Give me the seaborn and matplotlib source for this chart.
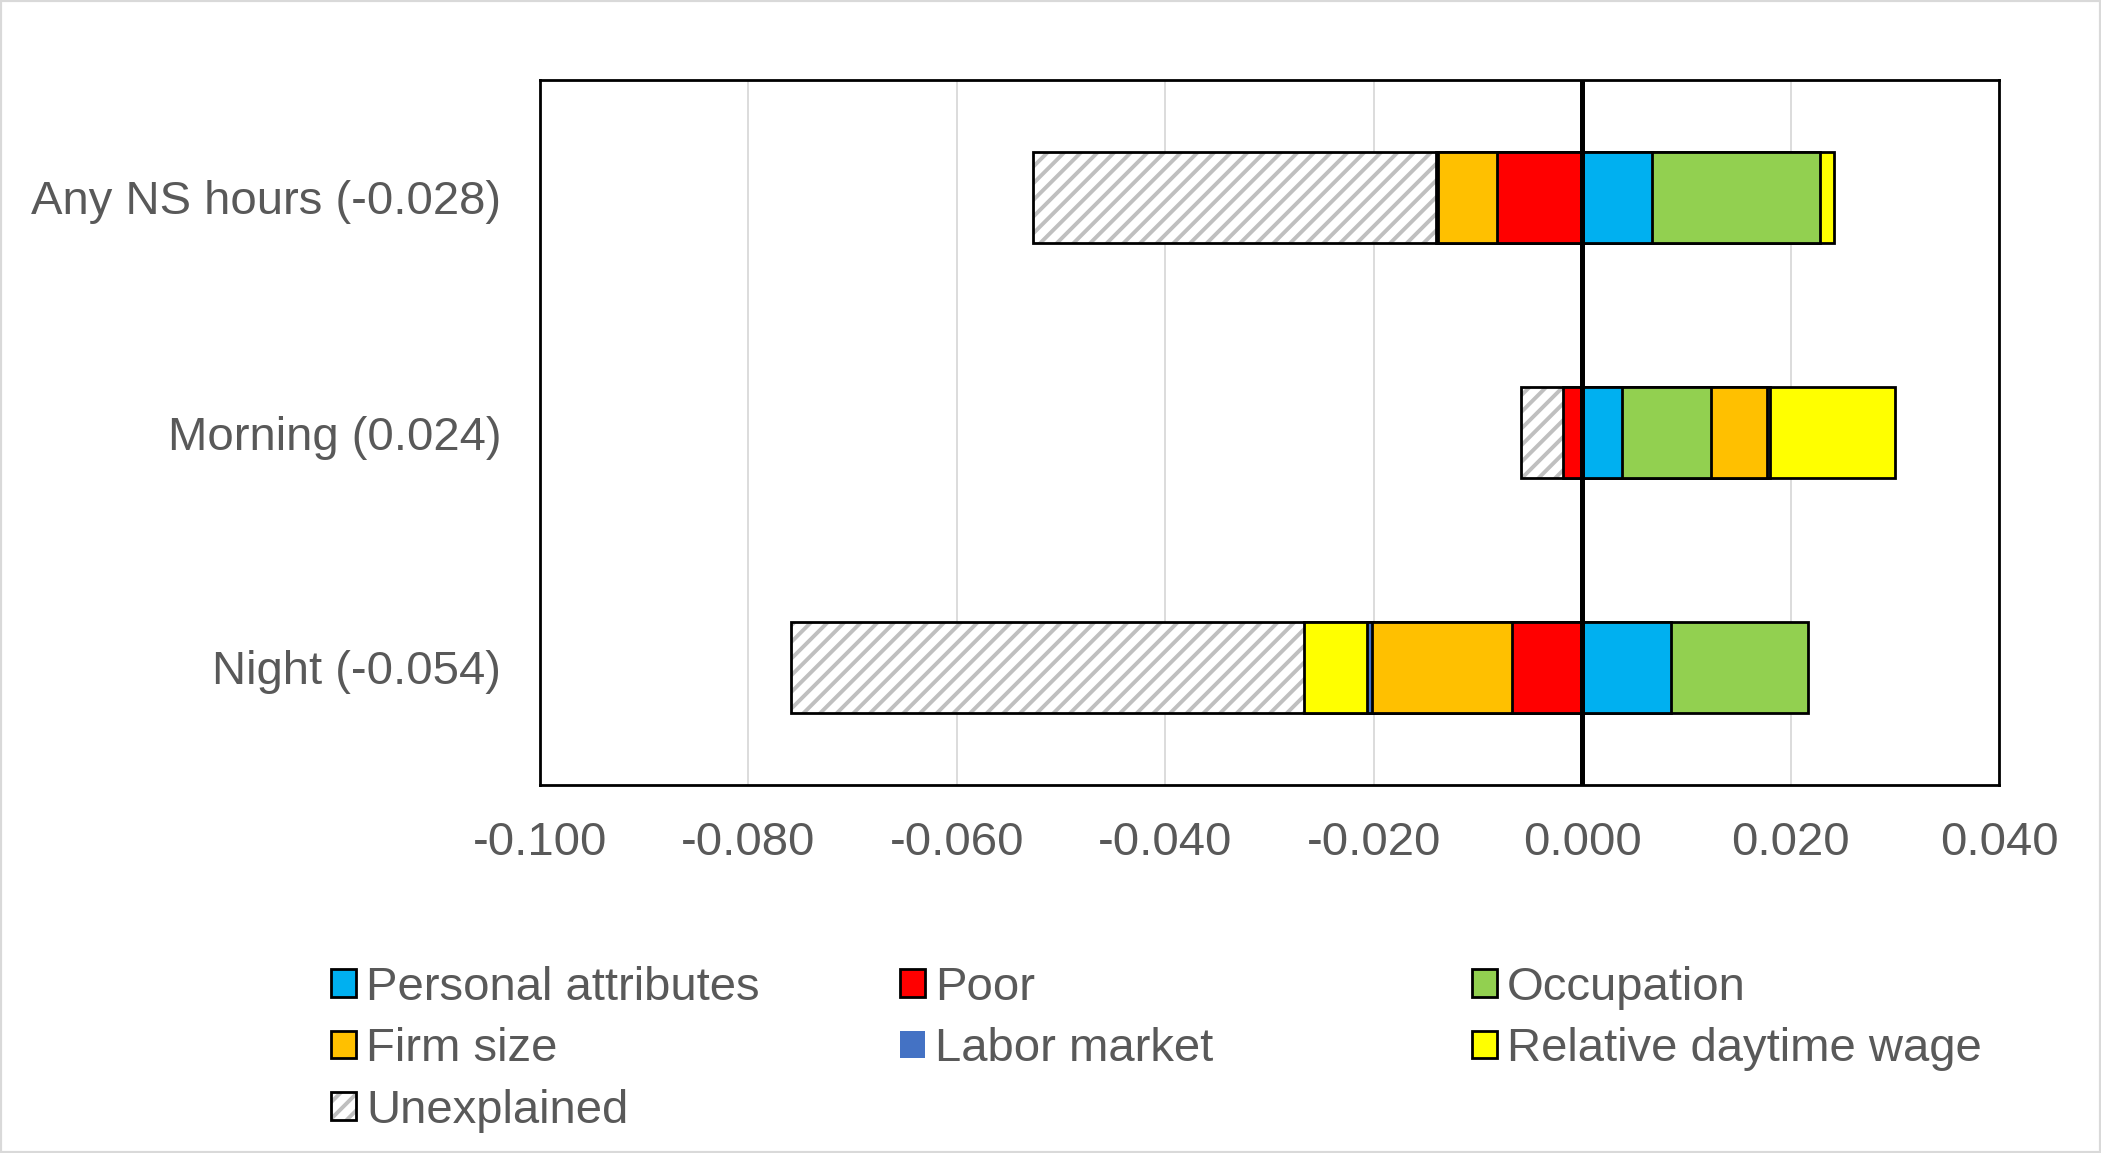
import numpy as np
import matplotlib
matplotlib.use("Agg")
import matplotlib.pyplot as plt
import seaborn as sns
from matplotlib.patches import Patch, Rectangle
from matplotlib.legend_handler import HandlerTuple
from matplotlib.ticker import FixedLocator, FuncFormatter

# ---------------- data ----------------
categories = ["Any NS hours (-0.028)", "Morning (0.024)", "Night (-0.054)"]
series_names = ["Personal attributes", "Poor", "Occupation", "Firm size",
                "Labor market", "Relative daytime wage", "Unexplained"]
personal = [0.0067, 0.0038, 0.0085]
poor = [-0.0082, -0.0018, -0.0067]
occupation = [0.0161, 0.0086, 0.0132]
firm_size = [-0.0056, 0.0053, -0.0135]
labor_market = [-0.0002, 0.0003, -0.0004]
relative_wage = [0.0014, 0.0120, -0.0061]
unexplained = [-0.0387, -0.0041, -0.0492]
series_colors = ["#00B0F0", "#FF0000", "#92D050", "#FFC000",
                 "#4472C4", "#FFFF00", "#FFFFFF"]
xtick_values = [-0.100, -0.080, -0.060, -0.040, -0.020, 0.000, 0.020, 0.040]

# ---------------- style ----------------
sns.set_theme(style="white")
plt.rcParams["font.family"] = ["Liberation Sans", "DejaVu Sans"]
plt.rcParams["hatch.linewidth"] = 2.8
TEXT = "#595959"
HATCH = "#BFBFBF"
FS = 34
EDGE_LW = 2.0

W, H = 2101, 1153
fig = plt.figure(figsize=(W / 100, H / 100), dpi=100)
ax = fig.add_axes([540 / W, 1 - 785 / H, (1999 - 540) / W, (785 - 80) / H])

values = [personal, poor, occupation, firm_size, labor_market, relative_wage, unexplained]

# cumulative diverging stack ends
pos = np.zeros(len(categories))
neg = np.zeros(len(categories))
ends = []
for v in values:
    v = np.asarray(v, dtype=float)
    e = np.where(v >= 0, pos + v, neg + v)
    pos = np.where(v >= 0, pos + v, pos)
    neg = np.where(v < 0, neg + v, neg)
    ends.append(e)

BAR_W = 0.39
for i in reversed(range(len(series_names))):
    name = series_names[i]
    if name == "Unexplained":
        sns.barplot(x=ends[i], y=categories, orient="h", width=BAR_W,
                    color="white", saturation=1, errorbar=None, ax=ax,
                    linewidth=0, zorder=2)
        for p in ax.containers[-1]:
            p.set_facecolor("white")
            p.set_edgecolor(HATCH)
            p.set_hatch("//")
            p.set_linewidth(0)
        sns.barplot(x=ends[i], y=categories, orient="h", width=BAR_W,
                    color="white", saturation=1, errorbar=None, ax=ax,
                    linewidth=EDGE_LW, edgecolor="black", zorder=2)
        for p in ax.containers[-1]:
            p.set_facecolor("none")
            p.set_edgecolor("black")
    else:
        sns.barplot(x=ends[i], y=categories, orient="h", width=BAR_W,
                    color=series_colors[i], saturation=1, errorbar=None, ax=ax,
                    linewidth=EDGE_LW, edgecolor="black", zorder=2)

ax.axvline(0, color="black", lw=3.6, zorder=6)

ax.set_xlim(xtick_values[0], xtick_values[-1])
ax.set_ylim(len(categories) - 0.5, -0.5)
ax.xaxis.set_major_locator(FixedLocator(xtick_values))
ax.xaxis.set_major_formatter(FuncFormatter(lambda v, p: f"{v:.3f}".replace("\u2212", "-")))
ax.set_xlabel("")
ax.set_ylabel("")
ax.set_axisbelow(True)
ax.xaxis.grid(True, color="#D9D9D9", lw=1.3)
ax.yaxis.grid(False)
for s in ax.spines.values():
    s.set_visible(True)
    s.set_color("black")
    s.set_linewidth(2.0)
ax.tick_params(axis="both", length=0, labelsize=FS, labelcolor=TEXT)
ax.tick_params(axis="x", pad=26)
ax.tick_params(axis="y", pad=28)

# ---------------- legend ----------------
def handle_for(i):
    name = series_names[i]
    if name == "Unexplained":
        return (Patch(facecolor="white", edgecolor=HATCH, hatch="//", lw=0),
                Patch(facecolor="none", edgecolor="black", lw=EDGE_LW))
    if name == "Labor market":
        return Patch(facecolor=series_colors[i], edgecolor=series_colors[i], lw=0)
    return Patch(facecolor=series_colors[i], edgecolor="black", lw=EDGE_LW)

columns = [[0, 3, 6], [1, 4], [2, 5]]
col_x = [331, 900, 1472]
for idxs, cx in zip(columns, col_x):
    fig.legend(handles=[handle_for(i) for i in idxs],
               labels=[series_names[i] for i in idxs],
               handler_map={tuple: HandlerTuple(ndivide=1, pad=0)},
               loc="upper left", bbox_to_anchor=(cx / W, 1 - 966 / H),
               bbox_transform=fig.transFigure, frameon=False, fontsize=FS,
               handlelength=0.52, handleheight=0.52, handletextpad=0.22,
               labelspacing=0.37, borderpad=0, borderaxespad=0,
               labelcolor=TEXT)

# outer chart border
fig.add_artist(Rectangle((0, 0), 1, 1, transform=fig.transFigure, fill=False,
                         edgecolor="#D9D9D9", lw=3))

fig.savefig("out.png", dpi=100)
